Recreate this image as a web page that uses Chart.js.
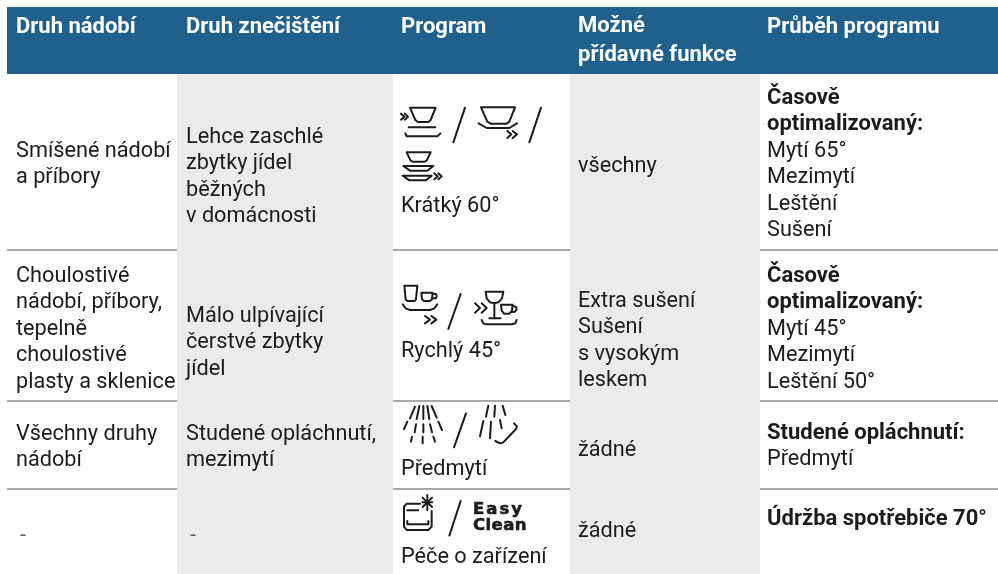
<!DOCTYPE html>
<html>
<head>
    <title>Programy myčky</title>
    <meta charset="utf-8">
    <style>
        body { margin: 0; background: #fff; }
    </style>
    <script src="https://cdn.jsdelivr.net/npm/chart.js"></script>
</head>
<body>
    <canvas id="myChart" width="998" height="574"></canvas>

    <script>
        // table content
        const headers = [["Druh nádobí"], ["Druh znečištění"], ["Program"], ["Možné", "přídavné funkce"], ["Průběh programu"]];
        const dishTypes = [
            ["Smíšené nádobí", "a příbory"],
            ["Choulostivé", "nádobí, příbory,", "tepelně", "choulostivé", "plasty a sklenice"],
            ["Všechny druhy", "nádobí"],
            ["-"]
        ];
        const soilTypes = [
            ["Lehce zaschlé", "zbytky jídel", "běžných", "v domácnosti"],
            ["Málo ulpívající", "čerstvé zbytky", "jídel"],
            ["Studené opláchnutí,", "mezimytí"],
            ["-"]
        ];
        const programs = [["Krátký 60°"], ["Rychlý 45°"], ["Předmytí"], ["Péče o zařízení"]];
        const extras = [
            ["všechny"],
            ["Extra sušení", "Sušení", "s vysokým", "leskem"],
            ["žádné"],
            ["žádné"]
        ];
        const sequences = [
            ["Časově", "optimalizovaný:", "Mytí 65°", "Mezimytí", "Leštění", "Sušení"],
            ["Časově", "optimalizovaný:", "Mytí 45°", "Mezimytí", "Leštění 50°"],
            ["Studené opláchnutí:", "Předmytí"],
            ["Údržba spotřebiče 70°"]
        ];
        const sequenceBoldLines = [2, 2, 1, 1];

        // layout, in page pixels
        const columnX = [16, 186, 401, 578, 767];
        const dashX = [20, 190];
        const headerBaselines = [33, 33, 33, 32, 33];
        const firstBaselines = [
            [157, 282, 440, 542],
            [143, 322, 440, 542],
            [212, 357, 475, 563],
            [172, 307, 456, 537],
            [104, 282, 439, 525]
        ];
        const lineHeight = 26.4;
        const greyColumns = [[177, 393], [570, 760]];
        const headerBand = [7, 998, 7, 74];
        const rules = [250, 401, 489];

        const blue = '#20608d';
        const grey = '#ebebed';
        const ink = '#1c1c1c';
        const bodyFont = '21.7px Roboto';
        const boldFont = 'bold 22px Roboto';

        // pictograms: strokes in 1/3 px units around an origin on the page
        const icons = [
            { origin: [390, 70], strokes: [
                [[60,113],[137,113],[122,150],[115,156],[84,156],[76,150],[60,113]],
                [[56,172],[136,172]],
                [[46,190],[50,199],[142,199],[151,190]],
                [[33,131],[43,140],[33,149]], [[44,131],[54,140],[44,149]],
                [[225,113],[190,217]],
                [[273,112],[375,112],[358,155],[350,161],[302,161],[292,155],[273,112]],
                [[266,160],[290,174],[358,174],[381,160]],
                [[352,183],[364,193],[352,204]], [[368,183],[381,193],[368,204]],
                [[453,113],[418,217]],
                [[50,247],[122,247],[110,272],[104,275],[68,275],[62,272],[50,247]],
                [[40,288],[130,288],[112,302],[60,302],[40,288]],
                [[38,317],[125,317],[108,331],[58,331],[38,317]],
                [[133,310],[143,319],[133,328]], [[145,310],[155,319],[145,328]]
            ]},
            { origin: [390, 270], strokes: [
                [[43,47],[82,47],[78,88],[74,93],[52,93],[47,88],[43,47]],
                [[94,68],[128,68],[126,88],[120,93],[102,93],[96,88],[94,68]],
                [[128,72],[138,72],[140,78],[138,85],[127,85]],
                [[38,103],[48,116],[60,120],[120,120],[132,116],[142,103]],
                [[105,138],[120,149],[105,160]], [[124,138],[139,149],[124,160]],
                [[212,72],[175,177]],
                [[287,65],[340,65],[336,85],[325,97],[313,100],[300,97],[290,85],[287,65]],
                [[313,100],[313,145]], [[298,145],[332,145]],
                [[333,104],[368,104],[366,122],[358,131],[342,131],[335,122],[333,104]],
                [[368,108],[378,110],[380,118],[375,125],[365,126]],
                [[275,150],[280,160],[290,163],[365,163],[376,160],[380,150]],
                [[255,100],[270,114],[255,128]], [[275,100],[290,114],[275,128]]
            ]},
            { origin: [390, 395], strokes: [
                [[75,35],[60,70]], [[88,33],[80,72]], [[100,33],[100,72]], [[112,33],[118,72]], [[125,33],[140,68]],
                [[52,80],[42,102]], [[78,88],[74,112]], [[100,88],[100,112]], [[120,88],[126,112]], [[145,80],[156,105]],
                [[66,125],[63,140]], [[98,125],[98,145]], [[130,125],[135,140]],
                [[228,55],[192,157]],
                [[295,32],[288,65]], [[315,32],[313,65]], [[338,32],[346,60]],
                [[280,78],[270,124]], [[303,80],[300,130]], [[330,75],[335,100]],
                [[372,85],[381,94],[378,102],[340,142],[330,145],[316,138]],
                [[42,335],[42,395],[50,405],[115,405],[125,395],[125,348]],
                [[42,335],[50,326],[90,326]],
                [[52,346],[85,346]],
                [[52,378],[52,388],[115,388],[115,378]],
                [[97,322],[127,322]], [[112,300],[112,345]], [[98,308],[126,336]], [[126,308],[98,336]],
                [[212,318],[178,422]]
            ]}
        ];

        const tablePlugin = {
            id: 'table',
            afterDatasetsDraw(chart) {
                const c = chart.ctx;
                const px = chart.scales.x;
                const py = chart.scales.y;
                c.save();
                c.textBaseline = 'alphabetic';

                // headers
                c.fillStyle = '#fff';
                c.font = boldFont;
                headers.forEach(function(lines, col) {
                    lines.forEach(function(t, i) {
                        c.fillText(t, px.getPixelForValue(columnX[col]), py.getPixelForValue(headerBaselines[col] + i * 29));
                    });
                });

                // body cells
                const columns = [dishTypes, soilTypes, programs, extras, sequences];
                columns.forEach(function(rows, col) {
                    rows.forEach(function(lines, row) {
                        lines.forEach(function(t, i) {
                            const isBold = col == 4 && i < sequenceBoldLines[row];
                            c.font = isBold ? boldFont : bodyFont;
                            c.fillStyle = t == '-' ? '#666' : ink; // dashes are faint in the original
                            const x = t == '-' ? dashX[col] : columnX[col];
                            c.fillText(t, px.getPixelForValue(x), py.getPixelForValue(firstBaselines[col][row] + i * lineHeight));
                        });
                    });
                });

                // pictograms
                c.strokeStyle = ink;
                c.lineWidth = 2;
                c.lineCap = 'round';
                c.lineJoin = 'round';
                icons.forEach(function(icon) {
                    icon.strokes.forEach(function(s) {
                        c.beginPath();
                        s.forEach(function(p, i) {
                            const x = px.getPixelForValue(icon.origin[0] + p[0] / 3);
                            const y = py.getPixelForValue(icon.origin[1] + p[1] / 3);
                            if (i == 0) c.moveTo(x, y); else c.lineTo(x, y);
                        });
                        c.stroke();
                    });
                });

                // Easy Clean logo, thickened with a thin outline
                c.fillStyle = ink;
                c.font = 'bold 16.5px "DejaVu Sans"';
                c.lineWidth = 0.6;
                c.letterSpacing = '2px';
                c.fillText('Easy', px.getPixelForValue(473), py.getPixelForValue(514));
                c.strokeText('Easy', px.getPixelForValue(473), py.getPixelForValue(514));
                c.letterSpacing = '0.4px';
                c.fillText('Clean', px.getPixelForValue(473), py.getPixelForValue(530));
                c.strokeText('Clean', px.getPixelForValue(473), py.getPixelForValue(530));
                c.restore();
            }
        };

        function band(x0, x1, y0, y1, color) {
            return {
                data: [{ x: x0, y: y0 }, { x: x1, y: y0 }],
                showLine: true,
                pointRadius: 0,
                borderWidth: 0,
                backgroundColor: color,
                fill: { value: y1 }
            };
        }
        function rule(y) {
            return {
                data: [{ x: headerBand[0], y: y }, { x: headerBand[1], y: y }],
                showLine: true,
                pointRadius: 0,
                borderColor: '#8b8b8b',
                borderWidth: 1.5,
                fill: false
            };
        }

        let datasets = [];
        greyColumns.forEach(function(g) { datasets.push(band(g[0], g[1], headerBand[3], 574, grey)); });
        datasets.push(band(headerBand[0], headerBand[1], headerBand[2], headerBand[3], blue));
        rules.forEach(function(y) { datasets.push(rule(y)); });

        let ctx = document.getElementById('myChart').getContext('2d');
        let myChart = new Chart(ctx, {
            type: 'scatter',
            data: { datasets: datasets },
            options: {
                responsive: false,
                animation: false,
                layout: { padding: 0 },
                plugins: { legend: { display: false }, tooltip: { enabled: false } },
                scales: {
                    x: { type: 'linear', min: 0, max: 998, display: false },
                    y: { type: 'linear', min: 0, max: 574, reverse: true, display: false }
                }
            },
            plugins: [tablePlugin]
        });
    </script>
</body>
</html>
